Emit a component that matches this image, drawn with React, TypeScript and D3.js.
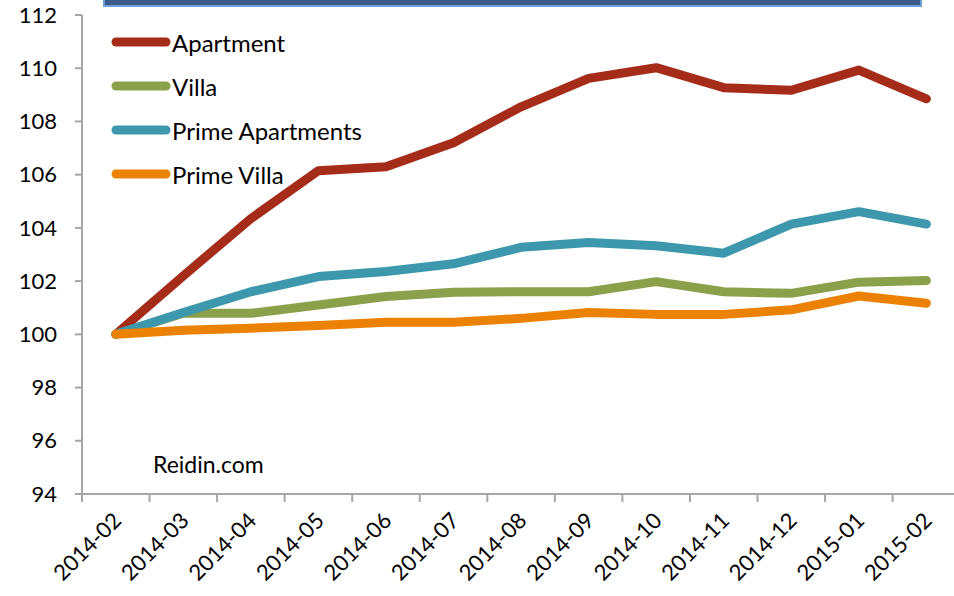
import React from "react";
import * as d3 from "d3";

const categories = ["2014-02","2014-03","2014-04","2014-05","2014-06","2014-07","2014-08","2014-09","2014-10","2014-11","2014-12","2015-01","2015-02"];
const apartment = [100, 102.2, 104.35, 106.15, 106.3, 107.2, 108.55, 109.62, 110.02, 109.27, 109.17, 109.93, 108.85];
const villa = [100, 100.79, 100.79, 101.1, 101.42, 101.58, 101.6, 101.6, 101.98, 101.6, 101.54, 101.96, 102.02];
const primeApartments = [100, 100.82, 101.6, 102.17, 102.36, 102.65, 103.27, 103.45, 103.33, 103.05, 104.14, 104.61, 104.14];
const primeVilla = [100, 100.15, 100.23, 100.33, 100.45, 100.45, 100.6, 100.82, 100.75, 100.75, 100.92, 101.44, 101.17];
const seriesNames = ["Apartment", "Villa", "Prime Apartments", "Prime Villa"];
const seriesColors = ["#a52c18", "#8aa04b", "#3d98ae", "#ec8205"];
const yTicks = [94, 96, 98, 100, 102, 104, 106, 108, 110, 112];

export default function App() {
  const allSeries = [apartment, villa, primeApartments, primeVilla];
  const x = d3.scaleBand<string>().domain(categories).range([82, 82 + 13 * 67.55]).paddingInner(0).paddingOuter(0);
  const y = d3.scaleLinear().domain([94, 112]).range([494, 15]);
  const cx = (c: string) => (x(c) as number) + x.bandwidth() / 2;
  const line = d3.line<number>().x((_, i) => cx(categories[i])).y((v) => y(v));
  const font = "Lato, 'Open Sans', sans-serif";
  const axisColor = "#a6a6a6";
  return (
    <svg width={954} height={596} style={{ position: "absolute", left: 0, top: 0, background: "#fff" }} fontFamily={font}>
      <rect x={104} y={-10} width={817} height={16} fill="#3b5c8a" stroke="#6e9fd5" strokeWidth={2} />
      {/* y axis */}
      <line x1={82} x2={82} y1={y(112)} y2={y(94)} stroke={axisColor} strokeWidth={2} />
      {yTicks.map((t) => (
        <g key={t}>
          <line x1={75} x2={82} y1={y(t)} y2={y(t)} stroke={axisColor} strokeWidth={2} />
          <text x={57} y={y(t)} dy="0.35em" textAnchor="end" fontSize={22} fill="#000">{t}</text>
        </g>
      ))}
      {/* x axis */}
      <line x1={82} x2={954} y1={y(94)} y2={y(94)} stroke={axisColor} strokeWidth={2} />
      {categories.map((c) => (
        <line key={"t" + c} x1={x(c) as number} x2={x(c) as number} y1={y(94)} y2={y(94) + 8} stroke={axisColor} strokeWidth={2} />
      ))}
      {categories.map((c) => (
        <text key={"l" + c} transform={`translate(${cx(c) + 7},${y(94) + 28}) rotate(-45)`} textAnchor="end" fontSize={22} fill="#000">{c}</text>
      ))}
      {/* lines */}
      {allSeries.map((s, i) => (
        <path key={seriesNames[i]} d={line(s) || ""} fill="none" stroke={seriesColors[i]} strokeWidth={9} strokeLinejoin="round" strokeLinecap="round" />
      ))}
      {/* legend */}
      {seriesNames.map((n, i) => (
        <g key={"lg" + n}>
          <line x1={116} x2={166} y1={42 + i * 44} y2={42 + i * 44} stroke={seriesColors[i]} strokeWidth={9} strokeLinecap="round" />
          <text x={172} y={44 + i * 44} dy="0.35em" fontSize={24} fill="#000">{n}</text>
        </g>
      ))}
      <text x={153} y={465} dy="0.35em" fontSize={23} fill="#000">Reidin.com</text>
    </svg>
  );
}
